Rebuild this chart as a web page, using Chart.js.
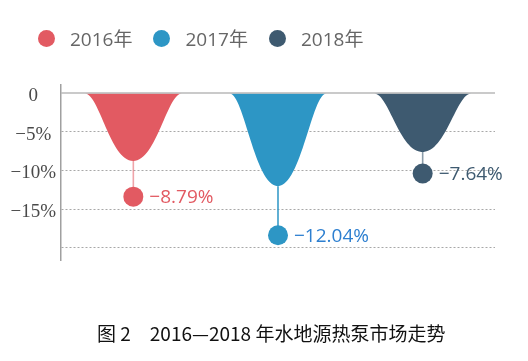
<!DOCTYPE html>
<html><head><meta charset="utf-8">
<script src="https://cdn.jsdelivr.net/npm/chart.js@4.4.0/dist/chart.umd.min.js"></script>
<style>
html,body{margin:0;padding:0;background:#fff;width:528px;height:361px;overflow:hidden;}
#wrap{position:absolute;left:0;top:0;width:528px;height:361px;}
#legend{position:absolute;left:38px;top:27px;height:22px;display:flex;align-items:center;font:19px 'Open Sans','Noto Sans CJK SC',sans-serif;color:#666;}
.item{display:flex;align-items:center;margin-right:21px;white-space:nowrap;}
.dot{width:17px;height:17px;border-radius:50%;margin-right:15px;}
#caption{position:absolute;left:97px;top:320px;font:19px 'Noto Sans CJK SC',sans-serif;color:#111;white-space:pre;line-height:26px;}
</style></head>
<body>
<div id="wrap"><canvas id="c" width="528" height="361"></canvas></div>
<div id="legend"></div>
<div id="caption">图 2　2016—2018 年水地源热泵市场走势</div>
<script>
const categories = ['2016年', '2017年', '2018年'];
const values = [-8.79, -12.04, -7.64];
const pinValues = [-13.4, -18.4, -10.4];
const valueLabels = ['−8.79%', '−12.04%', '−7.64%'];
const yTicks = [0, -5, -10, -15, -20];
const yTickLabels = ['0', '−5%', '−10%', '−15%', ''];

const colors = ['#e25a62', '#2d96c5', '#3e5a70'];
const pinLineColors = ['rgba(226,90,98,0.55)', 'rgba(45,150,197,0.95)', 'rgba(62,90,112,0.6)'];
const labelColors = ['#e25a62', '#2d7fd0', '#3e5a70'];

// HTML legend
const lg = document.getElementById('legend');
categories.forEach((c, i) => {
  const it = document.createElement('div'); it.className = 'item';
  const d = document.createElement('span'); d.className = 'dot'; d.style.background = colors[i];
  const t = document.createElement('span'); t.textContent = c;
  it.appendChild(d); it.appendChild(t); lg.appendChild(it);
});

const bellPlugin = {
  id: 'bell',
  beforeDatasetDraw(chart, args) {
    const meta = args.meta; const ctx = chart.ctx;
    ctx.save();
    ctx.fillStyle = colors[args.index];
    meta.data.forEach((el, j) => {
      const v = chart.data.datasets[args.index].data[j];
      if (v === null || v === undefined) return;
      const p = el.getProps(['x', 'y', 'base', 'width'], true);
      const hw = p.width / 2, l = p.x - hw, r = p.x + hw;
      ctx.beginPath();
      ctx.moveTo(l, p.base);
      ctx.bezierCurveTo(l + 0.3 * hw, p.base, l + 0.52 * hw, p.y, p.x, p.y);
      ctx.bezierCurveTo(r - 0.52 * hw, p.y, r - 0.3 * hw, p.base, r, p.base);
      ctx.closePath();
      ctx.fill();
    });
    ctx.restore();
    return false;
  },
  afterDatasetsDraw(chart) {
    const ctx = chart.ctx, ys = chart.scales.y, area = chart.chartArea;
    ctx.save();
    const y0 = ys.getPixelForValue(0);
    ctx.strokeStyle = '#b8b8b8'; ctx.lineWidth = 1.5;
    ctx.beginPath(); ctx.moveTo(area.left, y0); ctx.lineTo(area.right, y0); ctx.stroke();
    chart.data.datasets.forEach((ds, i) => {
      const meta = chart.getDatasetMeta(i);
      meta.data.forEach((el, j) => {
        if (ds.data[j] === null || ds.data[j] === undefined) return;
        const p = el.getProps(['x', 'y'], true);
        const py = ys.getPixelForValue(pinValues[i]);
        ctx.strokeStyle = pinLineColors[i]; ctx.lineWidth = 1.6;
        ctx.beginPath(); ctx.moveTo(p.x, p.y); ctx.lineTo(p.x, py); ctx.stroke();
        ctx.fillStyle = colors[i];
        ctx.beginPath(); ctx.arc(p.x, py, 10, 0, Math.PI * 2); ctx.fill();
        ctx.fillStyle = labelColors[i];
        ctx.font = "19px 'Open Sans', sans-serif";
        ctx.textAlign = 'left'; ctx.textBaseline = 'middle';
        ctx.fillText(valueLabels[i], p.x + 16, py + 1);
      });
    });
    ctx.restore();
  }
};

new Chart(document.getElementById('c'), {
  type: 'bar',
  data: {
    labels: categories,
    datasets: categories.map((c, i) => ({
      label: c,
      data: values.map((v, j) => (j === i ? v : null)),
      backgroundColor: colors[i],
      skipNull: true,
      barPercentage: 0.67,
      categoryPercentage: 1
    }))
  },
  options: {
    responsive: false,
    animation: false,
    layout: { padding: { left: 0, top: 85, right: 33, bottom: 101 } },
    plugins: { legend: { display: false }, tooltip: { enabled: false } },
    scales: {
      x: { display: false, grid: { display: false } },
      y: {
        min: -21.6, max: 1.05,
        afterFit(s) { s.width = 61; },
        afterBuildTicks(s) { s.ticks = yTicks.map(v => ({ value: v })); },
        ticks: {
          padding: 5,
          labelOffset: 3,
          crossAlign: 'center',
          color: '#4a4a4a',
          font: { family: "'Liberation Serif', 'Times New Roman', serif", size: 19 },
          callback: (v) => { const k = yTicks.indexOf(v); return k >= 0 ? yTickLabels[k] : ''; }
        },
        grid: {
          drawTicks: false,
          color: (ctx) => (ctx.tick && ctx.tick.value === 0 ? 'rgba(0,0,0,0)' : '#a8a8a8'),
          lineWidth: 1
        },
        border: { display: true, color: '#a0a0a0', width: 1.5, dash: [2, 2] }
      }
    }
  },
  plugins: [bellPlugin]
});
</script>
</body></html>
